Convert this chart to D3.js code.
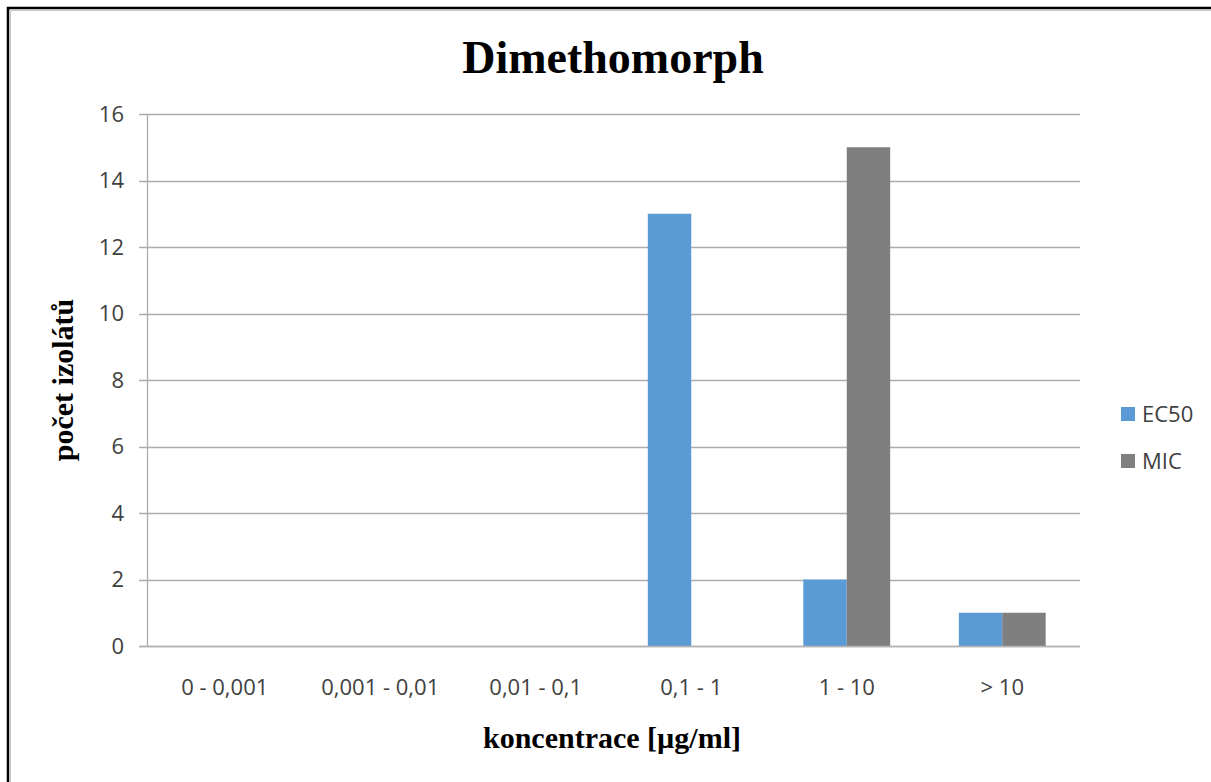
<!DOCTYPE html>
<html>
<head>
<meta charset="utf-8">
<script src="https://cdn.jsdelivr.net/npm/d3@7"></script>
<style>
  html, body { margin: 0; padding: 0; background: #fff; }
  svg { display: block; }
</style>
</head>
<body>
<svg id="chart" width="1211" height="782"></svg>
<script>
// Concentration classes and number of isolates per class
const categories = ["0 - 0,001", "0,001 - 0,01", "0,01 - 0,1", "0,1 - 1", "1 - 10", "> 10"];
const seriesNames = ["EC50", "MIC"];
const ec50Values = [0, 0, 0, 13, 2, 1];
const micValues = [0, 0, 0, 0, 15, 1];
const yTicks = [0, 2, 4, 6, 8, 10, 12, 14, 16];
const colors = { EC50: "#5b9bd5", MIC: "#7f7f7f" };

const rows = categories.map((c, i) => ({ cat: c, EC50: ec50Values[i], MIC: micValues[i] }));

const svg = d3.select("#chart");
const W = 1211, H = 782;
const plot = { left: 147, right: 1080, top: 114, bottom: 646 };
const labelFont = "Open Sans, Liberation Sans, sans-serif";
const titleFont = "Liberation Serif, Times New Roman, serif";

// Outer frame
svg.append("rect").attr("x", 8).attr("y", 8).attr("width", W + 20).attr("height", H + 20)
  .attr("fill", "#fff").attr("stroke", "#000").attr("stroke-width", 2.5);
svg.append("rect").attr("x", 10.5).attr("y", 10.5).attr("width", W + 20).attr("height", H + 20)
  .attr("fill", "none").attr("stroke", "#c8c8c8").attr("stroke-width", 1);

const x = d3.scaleBand().domain(categories).range([plot.left, plot.right]).paddingInner(0).paddingOuter(0);
const inner = d3.scaleBand().domain(seriesNames).range([0, x.bandwidth()]).paddingInner(0).paddingOuter(0.79);
const y = d3.scaleLinear().domain([0, 16]).range([plot.bottom, plot.top]);

// Horizontal gridlines
svg.append("g").selectAll("line").data(yTicks).join("line")
  .attr("x1", plot.left - 8).attr("x2", plot.right)
  .attr("y1", d => Math.round(y(d)) + 0.5).attr("y2", d => Math.round(y(d)) + 0.5)
  .attr("stroke", "#acacac").attr("stroke-width", 1.3);

// Bars
const groups = svg.append("g").selectAll("g").data(rows).join("g")
  .attr("transform", d => `translate(${x(d.cat)},0)`);
groups.selectAll("rect").data(d => seriesNames.map(s => ({ s, v: d[s] }))).join("rect")
  .attr("x", d => inner(d.s)).attr("width", inner.bandwidth())
  .attr("y", d => y(d.v)).attr("height", d => y(0) - y(d.v))
  .attr("fill", d => colors[d.s]);

// Y axis line
svg.append("line").attr("x1", plot.left + 0.5).attr("x2", plot.left + 0.5)
  .attr("y1", plot.top).attr("y2", plot.bottom + 1)
  .attr("stroke", "#acacac").attr("stroke-width", 1.3);
// X axis baseline
svg.append("line").attr("x1", plot.left - 8).attr("x2", plot.right)
  .attr("y1", Math.round(y(0)) + 0.5).attr("y2", Math.round(y(0)) + 0.5)
  .attr("stroke", "#b4b4b4").attr("stroke-width", 1.6);

// Y tick labels
svg.append("g").selectAll("text").data(yTicks).join("text")
  .attr("x", 124).attr("y", d => y(d)).attr("dy", "0.36em")
  .attr("text-anchor", "end")
  .attr("font-family", labelFont).attr("font-size", 22)
  .attr("fill", "#404040")
  .text(d => d);

// X tick labels
svg.append("g").selectAll("text").data(categories).join("text")
  .attr("x", d => x(d) + x.bandwidth() / 2).attr("y", 695)
  .attr("text-anchor", "middle")
  .attr("font-family", labelFont).attr("font-size", 22)
  .attr("fill", "#404040")
  .text(d => d);

// Title
svg.append("text").attr("x", 613).attr("y", 73).attr("text-anchor", "middle")
  .attr("font-family", titleFont).attr("font-weight", "bold")
  .attr("font-size", 46).attr("fill", "#000").text("Dimethomorph");

// Axis titles
svg.append("text").attr("x", 612).attr("y", 748).attr("text-anchor", "middle")
  .attr("font-family", titleFont).attr("font-weight", "bold")
  .attr("font-size", 30).attr("fill", "#000").text("koncentrace [µg/ml]");
svg.append("text").attr("transform", "translate(73,380) rotate(-90)").attr("text-anchor", "middle")
  .attr("font-family", titleFont).attr("font-weight", "bold")
  .attr("font-size", 30).attr("fill", "#000").text("počet izolátů");

// Legend
const legend = svg.append("g").selectAll("g").data(seriesNames).join("g")
  .attr("transform", (d, i) => `translate(1121,${407 + i * 47})`);
legend.append("rect").attr("width", 14).attr("height", 14).attr("fill", d => colors[d]);
legend.append("text").attr("x", 21).attr("y", 7).attr("dy", "0.36em")
  .attr("font-family", labelFont).attr("font-size", 22)
  .attr("fill", "#404040").text(d => d);
</script>
</body>
</html>
